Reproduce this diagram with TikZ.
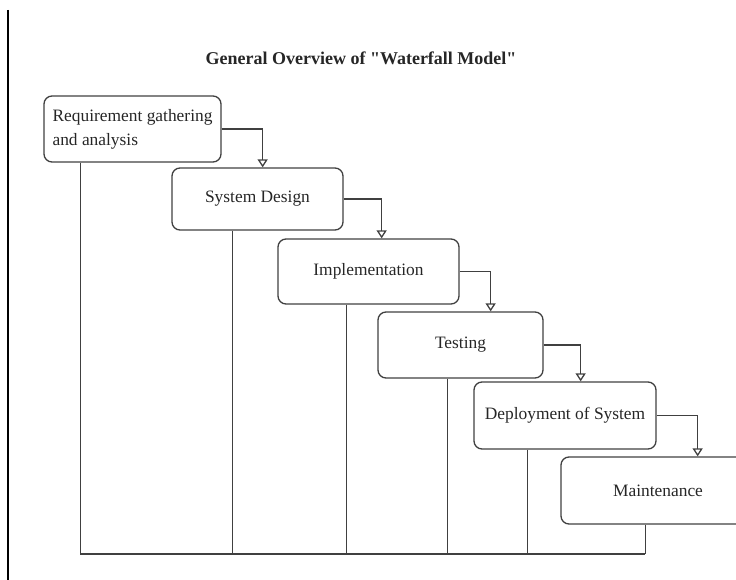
\documentclass[tikz,border=0pt]{standalone}
\usepackage{fontspec}
\setmainfont{Liberation Serif}
\usetikzlibrary{arrows.meta}
\tikzset{
  phase/.style={draw=black!75, line width=1.3pt, rounded corners=8pt, inner sep=4pt,
    font=\fontsize{17.4}{24}\selectfont, text=black!85},
  flow/.style={draw=black!75, line width=1.3pt, -{Triangle[open, length=8pt, width=10pt]}},
  drop/.style={draw=black!75, line width=1.3pt}
}
\begin{document}
\begin{tikzpicture}[x=1pt, y=-1pt]
\useasboundingbox (0,0) rectangle (736,580);
\draw[line width=1.6pt] (8,10) -- (8,580);
\node[font=\bfseries\fontsize{18}{22}\selectfont, text=black!85] (title) at (361,58)
  {General Overview of \textquotedbl Waterfall Model\textquotedbl};
% the phases
\node[phase, minimum width=177, minimum height=66, align=left] (req) at (132.5,129) {Requirement gathering\\and analysis};
\node[phase, minimum width=171, minimum height=62] (design) at (257.5,199) {System Design};
\node[phase, minimum width=181, minimum height=65] (impl) at (368.5,271.5) {Implementation};
\node[phase, minimum width=165, minimum height=66] (test) at (460.5,345) {Testing};
\node[phase, minimum width=182, minimum height=67] (deploy) at (565,415.5) {Deployment of System};
\node[phase, minimum width=194, minimum height=67] (maint) at (658,490.5) {Maintenance};
% cascade
\foreach \a/\b/\d in {req/design/41, design/impl/38, impl/test/31, test/deploy/37, deploy/maint/41}
  \draw[flow] (\a.east) -- ++(\d,0) coordinate (k) -- (k |- \b.north);
% lines back down
\coordinate (base) at (0,554);
\foreach \b/\d in {req/37, design/61, impl/69, test/70, deploy/54, maint/85}
  \draw[drop] ([xshift=\d]\b.south west) -- ([xshift=\d]\b.south west |- base);
\draw[drop] ([xshift=37]req.south west |- base) -- ([xshift=85]maint.south west |- base);
\end{tikzpicture}
\end{document}
